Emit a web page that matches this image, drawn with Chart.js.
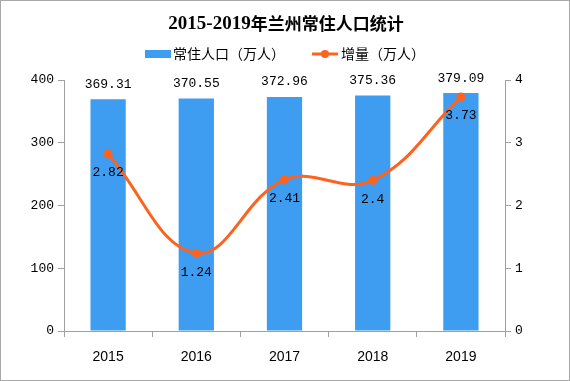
<!DOCTYPE html>
<html>
<head>
<meta charset="utf-8">
<script src="https://cdn.jsdelivr.net/npm/chart.js@4"></script>
<style>
    html, body { margin: 0; padding: 0; background: #fff; }
    #wrap { width: 570px; height: 381px; }
</style>
</head>
<body>
<div id="wrap"><canvas id="chart" width="570" height="381"></canvas></div>
<script>
// Chart data.
const years = ['2015', '2016', '2017', '2018', '2019'];
const population = [369.31, 370.55, 372.96, 375.36, 379.09];
const increase = [2.82, 1.24, 2.41, 2.4, 3.73];
const leftTicks = [0, 100, 200, 300, 400];
const rightTicks = [0, 1, 2, 3, 4];

const BAR_COLOR = '#3e9df1';
const LINE_COLOR = '#fb6420';
const AXIS_COLOR = '#a0a0a0';
const NUM_FONT = '"Liberation Mono", "DejaVu Sans Mono", monospace';
const CJK_FONT = '"Noto Sans CJK SC", sans-serif';

// Title, legend, frame and value labels.
const decorPlugin = {
    id: 'decor',
    afterDraw(chart) {
        const ctx = chart.ctx;
        ctx.save();

        // Outer frame
        ctx.strokeStyle = '#a8a8a8';
        ctx.lineWidth = 1;
        ctx.strokeRect(0.5, 0.5, chart.width - 1, chart.height - 1);

        // Title, drawn in two pieces
        const part1 = '2015-2019';
        const part2 = '年兰州常住人口统计';
        const f1 = 'bold 19px "Liberation Serif", serif';
        const f2 = 'bold 17px ' + CJK_FONT;
        ctx.textBaseline = 'middle';
        ctx.fillStyle = '#000';
        ctx.font = f1;
        const w1 = ctx.measureText(part1).width;
        ctx.font = f2;
        const w2 = ctx.measureText(part2).width;
        let tx = 286 - (w1 + w2) / 2;
        ctx.font = f1;
        ctx.textAlign = 'left';
        ctx.fillText(part1, tx, 24);
        ctx.font = f2;
        ctx.fillText(part2, tx + w1, 24);

        // Legend
        const ly = 54;
        ctx.fillStyle = BAR_COLOR;
        ctx.fillRect(145, ly - 4, 26, 8);
        ctx.fillStyle = '#000';
        ctx.font = '14px ' + CJK_FONT;
        ctx.fillText(chart.data.datasets[0].label, 173, ly);
        ctx.strokeStyle = LINE_COLOR;
        ctx.lineWidth = 3;
        ctx.beginPath();
        ctx.moveTo(312, ly);
        ctx.lineTo(338, ly);
        ctx.stroke();
        ctx.fillStyle = LINE_COLOR;
        ctx.beginPath();
        ctx.arc(325, ly, 4, 0, Math.PI * 2);
        ctx.fill();
        ctx.fillStyle = '#000';
        ctx.fillText(chart.data.datasets[1].label, 341, ly);

        // Value labels
        ctx.font = '13px ' + NUM_FONT;
        ctx.textAlign = 'center';
        chart.getDatasetMeta(0).data.forEach((bar, i) => {
            ctx.fillText(population[i].toFixed(2), bar.x, bar.y - 15);
        });
        chart.getDatasetMeta(1).data.forEach((pt, i) => {
            ctx.fillText(String(increase[i]), pt.x, pt.y + 19);
        });

        ctx.restore();
    }
};

const ctx = document.getElementById('chart');

const config = {
    data: {
        labels: years,
        datasets: [{
            type: 'bar',
            label: '常住人口（万人）',
            data: population,
            yAxisID: 'y',
            backgroundColor: BAR_COLOR,
            categoryPercentage: 1,
            barPercentage: 0.4,
            order: 1
        }, {
            type: 'line',
            label: '增量（万人）',
            data: increase,
            yAxisID: 'y1',
            borderColor: LINE_COLOR,
            backgroundColor: LINE_COLOR,
            borderWidth: 3,
            pointRadius: 4.5,
            pointBackgroundColor: LINE_COLOR,
            pointBorderWidth: 0,
            tension: 0.4,
            order: 0
        }]
    },
    options: {
        animation: false,
        responsive: false,
        devicePixelRatio: 1,
        layout: {
            padding: { top: 80, left: 0, right: 0, bottom: 0 }
        },
        plugins: {
            legend: { display: false },
            title: { display: false },
            tooltip: { enabled: false }
        },
        scales: {
            x: {
                offset: true,
                grid: {
                    offset: true,
                    drawOnChartArea: false,
                    color: AXIS_COLOR,
                    tickLength: 6
                },
                border: { color: AXIS_COLOR },
                ticks: {
                    color: '#000',
                    font: { family: '"Liberation Sans", Arial, sans-serif', size: 14 },
                    padding: 12
                },
                afterFit(scale) { scale.height = 50; }
            },
            y: {
                position: 'left',
                min: 0,
                max: 400,
                afterBuildTicks(scale) { scale.ticks = leftTicks.map(v => ({ value: v })); },
                grid: { drawOnChartArea: false, color: AXIS_COLOR, tickLength: 6 },
                border: { color: AXIS_COLOR },
                ticks: {
                    color: '#000',
                    font: { family: NUM_FONT, size: 13 },
                    padding: 4
                },
                afterFit(scale) { scale.width = 64; }
            },
            y1: {
                position: 'right',
                min: 0,
                max: 4,
                afterBuildTicks(scale) { scale.ticks = rightTicks.map(v => ({ value: v })); },
                grid: { drawOnChartArea: false, color: AXIS_COLOR, tickLength: 6 },
                border: { color: AXIS_COLOR },
                ticks: {
                    color: '#000',
                    font: { family: NUM_FONT, size: 13 },
                    padding: 4
                },
                afterFit(scale) { scale.width = 65; }
            }
        }
    },
    plugins: [decorPlugin]
};

new Chart(ctx, config);
</script>
</body>
</html>
